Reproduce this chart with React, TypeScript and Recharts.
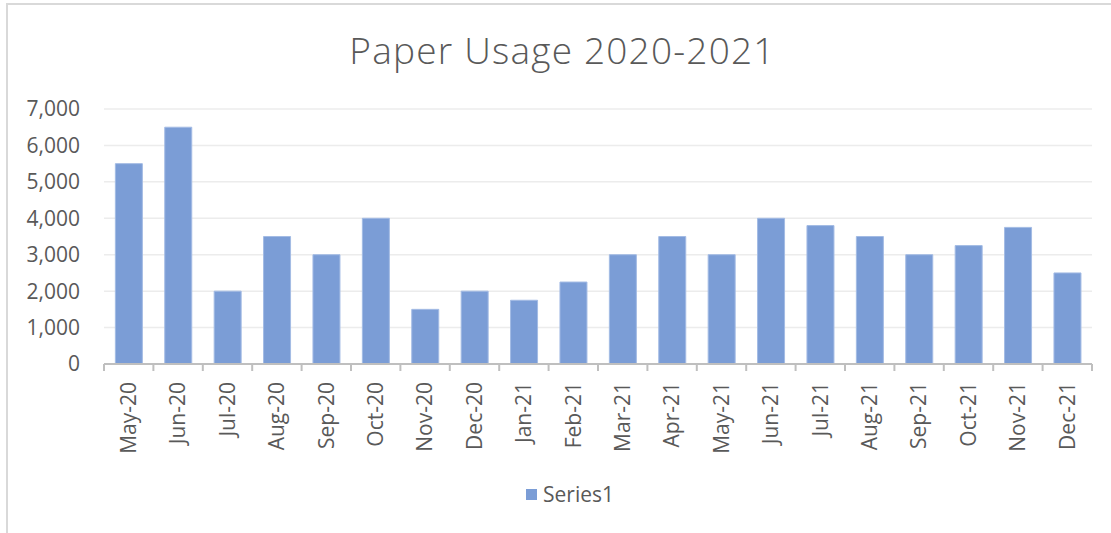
import { Bar, BarChart, CartesianGrid, Legend, XAxis, YAxis } from "recharts";

const months = [
  "May-20", "Jun-20", "Jul-20", "Aug-20", "Sep-20", "Oct-20", "Nov-20", "Dec-20",
  "Jan-21", "Feb-21", "Mar-21", "Apr-21", "May-21", "Jun-21", "Jul-21", "Aug-21",
  "Sep-21", "Oct-21", "Nov-21", "Dec-21",
];
const usage = [
  5500, 6500, 2000, 3500, 3000, 4000, 1500, 2000, 1750, 2250,
  3000, 3500, 3000, 4000, 3800, 3500, 3000, 3250, 3750, 2500,
];
const yTicks = [0, 1000, 2000, 3000, 4000, 5000, 6000, 7000];
const seriesName = "Series1";
const title = "Paper Usage 2020-2021";

const W = 1111;
const H = 533;
const margin = { top: 109, right: 19, bottom: 69, left: 8 };
const yAxisWidth = 96;
const plotWidth = W - margin.left - margin.right - yAxisWidth;

const font = '"Open Sans", sans-serif';
const textColor = "#595959";
const barColor = "#7b9dd6";
const tickFont = 21;

const chartData = months.map((month, i) => ({ month, value: usage[i] }));

function MonthTick(props: any) {
  const { x, y, payload, index } = props;
  const step = plotWidth / months.length;
  const last = index === months.length - 1;
  return (
    <g>
      <line x1={x - step / 2} x2={x - step / 2} y1={y} y2={y + 7} stroke="#bfbfbf" strokeWidth={2} />
      {last && <line x1={x + step / 2} x2={x + step / 2} y1={y} y2={y + 7} stroke="#bfbfbf" strokeWidth={2} />}
      <text
        transform={`translate(${x},${y + 18}) rotate(-90)`}
        textAnchor="end"
        dy="0.35em"
        fill={textColor}
        fontSize={tickFont}
        fontFamily={font}
      >
        {payload.value}
      </text>
    </g>
  );
}

function SeriesLegend() {
  return (
    <div style={{ display: "flex", alignItems: "center", fontFamily: font, fontSize: tickFont, color: textColor }}>
      <span style={{ width: 11, height: 11, background: barColor, marginRight: 6, display: "inline-block" }} />
      {seriesName}
    </div>
  );
}

export default function App() {
  return (
    <div style={{ position: "absolute", left: 0, top: 0, width: W, height: H, background: "#fff", overflow: "hidden" }}>
      <div
        style={{
          position: "absolute",
          left: 6,
          top: 3,
          width: W,
          height: H,
          borderLeft: "2px solid #d9d9d9",
          borderTop: "2px solid #d9d9d9",
        }}
      />
      <div
        style={{
          position: "absolute",
          left: 0,
          width: W,
          top: 24,
          textAlign: "center",
          paddingLeft: 14,
          boxSizing: "border-box",
          fontFamily: font,
          fontWeight: 300,
          fontSize: 37,
          color: textColor,
          letterSpacing: 1.2,
        }}
      >
        {title}
      </div>
      <div style={{ position: "absolute", left: 0, top: 0 }}>
        <BarChart width={W} height={H} data={chartData} margin={margin} barCategoryGap="23%">
          <CartesianGrid vertical={false} stroke="#ececec" strokeWidth={1.5} />
          <XAxis
            dataKey="month"
            axisLine={{ stroke: "#bfbfbf", strokeWidth: 2 }}
            tickLine={false}
            tickSize={0}
            tickMargin={0}
            interval={0}
            height={100}
            tick={<MonthTick />}
          />
          <YAxis
            width={yAxisWidth}
            domain={[0, 7000]}
            ticks={yTicks}
            axisLine={false}
            tickLine={false}
            tickSize={0}
            tickMargin={24}
            tickFormatter={(v) => Number(v).toLocaleString("en-US")}
            tick={{ fill: textColor, fontSize: tickFont, fontFamily: font }}
          />
          <Legend
            verticalAlign="middle"
            content={<SeriesLegend />}
            wrapperStyle={{ left: 526, top: 480, width: "auto" }}
          />
          <Bar
            dataKey="value"
            name={seriesName}
            fill={barColor}
            stroke="#a3bbe4"
            strokeWidth={1}
            isAnimationActive={false}
          />
        </BarChart>
      </div>
    </div>
  );
}
